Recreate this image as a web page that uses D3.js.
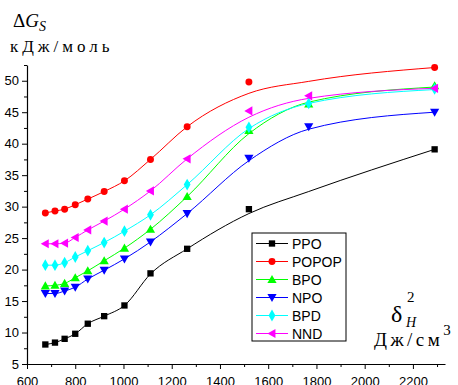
<!DOCTYPE html>
<html>
<head>
<meta charset="utf-8">
<script src="https://cdn.jsdelivr.net/npm/d3@7"></script>
<style>
  body { margin: 0; background: #fff; }
  svg text { font-family: "Liberation Sans", Arial, sans-serif; }
  .serif { font-family: "Liberation Serif", "Times New Roman", serif; }
</style>
</head>
<body>
<svg id="chart" width="458" height="385"></svg>
<script>
// x positions of the measurements (δH², Дж/см³)
const xs = [676, 716, 756, 800, 852, 920, 1004, 1112, 1264, 1520, 1768, 2290];

// measured points (null = no marker)
const ppo   = [8.1, 8.4, 9.0, 9.8, 11.4, 12.6, 14.3, 19.4, 23.3, 29.6, null, 39.1];
const popop = [29.0, 29.3, 29.6, 30.3, 31.2, 32.4, 34.1, 37.5, 42.7, 49.8, null, 52.1];
const bpo   = [17.4, 17.5, 17.8, 18.7, 19.8, 21.4, 23.4, 26.4, 31.6, 42.1, 46.3, 49.2];
const npo   = [16.2, 16.2, 16.6, 17.2, 18.5, 19.9, 21.7, 24.4, 28.9, 37.7, 42.7, 45.0];
const bpd   = [20.7, 20.7, 21.1, 22.0, 23.0, 24.3, 26.1, 28.7, 33.5, 42.6, 46.4, 48.7];
const nnd   = [24.1, 24.1, 24.2, 25.1, 26.3, 27.7, 29.6, 32.5, 37.6, 45.2, 47.6, 48.8];

// fitted curves, same xs
const ppoFit   = [8.1, 8.4, 9.0, 9.8, 11.4, 12.6, 14.3, 19.3, 23.3, 28.9, 32.4, 39.1];
const popopFit = [29.0, 29.3, 29.6, 30.3, 31.2, 32.4, 34.1, 37.5, 42.7, 48.0, 49.9, 52.1];
const bpoFit   = [17.4, 17.5, 17.8, 18.7, 19.8, 21.4, 23.4, 26.4, 31.6, 41.6, 46.6, 49.0];
const npoFit   = [16.2, 16.2, 16.6, 17.2, 18.5, 19.9, 21.7, 24.4, 28.9, 37.3, 42.3, 45.0];
const bpdFit   = [20.7, 20.7, 21.1, 22.0, 23.0, 24.3, 26.1, 28.7, 33.5, 42.4, 46.4, 48.6];
const nndFit   = [24.1, 24.1, 24.2, 25.1, 26.3, 27.7, 29.6, 32.5, 37.6, 44.2, 47.2, 48.8];

const names = ["PPO", "POPOP", "BPO", "NPO", "BPD", "NND"];

const xTicks = [600, 700, 800, 900, 1000, 1100, 1200, 1300, 1400, 1500, 1600, 1700, 1800, 1900, 2000, 2100, 2200, 2300];
const yTicks = [5, 7.5, 10, 12.5, 15, 17.5, 20, 22.5, 25, 27.5, 30, 32.5, 35, 37.5, 40, 42.5, 45, 47.5, 50, 52.5];

const series = [
  {name: names[0], pts: ppo,   fit: ppoFit,   color: "#000000", shape: d3.symbolSquare,   size: 40},
  {name: names[1], pts: popop, fit: popopFit, color: "#ff0000", shape: d3.symbolCircle,   size: 38},
  {name: names[2], pts: bpo,   fit: bpoFit,   color: "#00ff00", shape: "up",              size: 4.6},
  {name: names[3], pts: npo,   fit: npoFit,   color: "#0000ff", shape: "down",            size: 4.6},
  {name: names[4], pts: bpd,   fit: bpdFit,   color: "#00ffff", shape: d3.symbolDiamond,  size: 40},
  {name: names[5], pts: nnd,   fit: nndFit,   color: "#ff00ff", shape: "left",            size: 4.6}
];

const svg = d3.select("#chart");

const x = d3.scaleLinear().domain([600, 2333]).range([27, 445]);
const y = d3.scaleLinear().domain([5, 52.5]).range([364, 65]);

// triangles are drawn by hand so they match Origin's sharp markers
function markerPath(s) {
  const r = s.size;
  if (s.shape === "up") return `M0,${-r}L${r},${r * 0.75}L${-r},${r * 0.75}Z`;
  if (s.shape === "down") return `M0,${r}L${r},${-r * 0.75}L${-r},${-r * 0.75}Z`;
  if (s.shape === "left") return `M${-r},0L${r * 0.75},${-r}L${r * 0.75},${r}Z`;
  return d3.symbol().type(s.shape).size(s.size)();
}

// x axis
const xAxis = svg.append("g")
  .attr("transform", "translate(0,364)")
  .call(d3.axisBottom(x).tickValues(xTicks).tickSizeOuter(0)
    .tickFormat(d => d % 200 === 0 ? d : ""));
xAxis.selectAll(".tick line").attr("y2", d => d % 200 === 0 ? 5 : 3);
xAxis.selectAll(".tick text").attr("y", 12.5).attr("font-size", 13).attr("font-family", "Liberation Sans, Arial, sans-serif");

// y axis
const yAxis = svg.append("g")
  .attr("transform", "translate(27,0)")
  .call(d3.axisLeft(y).tickValues(yTicks).tickSizeOuter(0)
    .tickFormat(d => d % 5 === 0 ? d : ""));
yAxis.selectAll(".tick line").attr("x2", d => d % 5 === 0 ? -5 : -3);
yAxis.selectAll(".tick text").attr("x", -8).attr("font-size", 13).attr("font-family", "Liberation Sans, Arial, sans-serif");
svg.selectAll(".domain").attr("stroke-width", 1.2);

// curves
const line = d3.line()
  .x((d, i) => x(xs[i]))
  .y(d => y(d))
  .curve(d3.curveMonotoneX);

series.forEach(s => {
  svg.append("path")
    .attr("d", line(s.fit))
    .attr("fill", "none")
    .attr("stroke", s.color)
    .attr("stroke-width", 1);
});

// markers
series.forEach(s => {
  svg.append("g").selectAll("path")
    .data(s.pts.map((v, i) => ({x: xs[i], v})).filter(d => d.v !== null))
    .enter()
    .append("path")
    .attr("transform", d => `translate(${x(d.x)},${y(d.v)})`)
    .attr("d", markerPath(s))
    .attr("fill", s.color);
});

// legend
const lg = svg.append("g").attr("transform", "translate(252,233)");
lg.append("rect")
  .attr("width", 94).attr("height", 108)
  .attr("fill", "#fff").attr("stroke", "#000").attr("stroke-width", 1);
series.forEach((s, i) => {
  const row = lg.append("g").attr("transform", `translate(0,${10.5 + i * 18})`);
  row.append("line").attr("x1", 4).attr("x2", 36)
    .attr("stroke", s.color).attr("stroke-width", 1);
  row.append("path").attr("transform", "translate(20,0)")
    .attr("d", markerPath(s)).attr("fill", s.color);
  row.append("text").attr("x", 40).attr("y", 5)
    .attr("font-size", 14).text(s.name);
});

// y title
const yt = svg.append("text").attr("class", "serif").attr("x", 13).attr("y", 27).attr("font-size", 19);
yt.append("tspan").text("Δ");
yt.append("tspan").attr("font-style", "italic").text("G");
yt.append("tspan").attr("font-style", "italic").attr("font-size", 14).attr("dy", 4).text("S");
svg.append("text").attr("class", "serif").attr("x", 10).attr("y", 52)
  .attr("font-size", 17).attr("letter-spacing", 4).text("кДж/моль");

// x title
svg.append("text").attr("class", "serif").attr("x", 391).attr("y", 322).attr("font-size", 24).text("δ");
svg.append("text").attr("class", "serif").attr("x", 407).attr("y", 302).attr("font-size", 15).text("2");
svg.append("text").attr("class", "serif").attr("x", 406).attr("y", 327).attr("font-size", 14)
  .attr("font-style", "italic").text("H");
const xt = svg.append("text").attr("class", "serif").attr("x", 374).attr("y", 346)
  .attr("font-size", 19).attr("letter-spacing", 3.5);
xt.append("tspan").text("Дж/см");
xt.append("tspan").attr("font-size", 15).attr("dy", -11).text("3");
</script>
</body>
</html>
